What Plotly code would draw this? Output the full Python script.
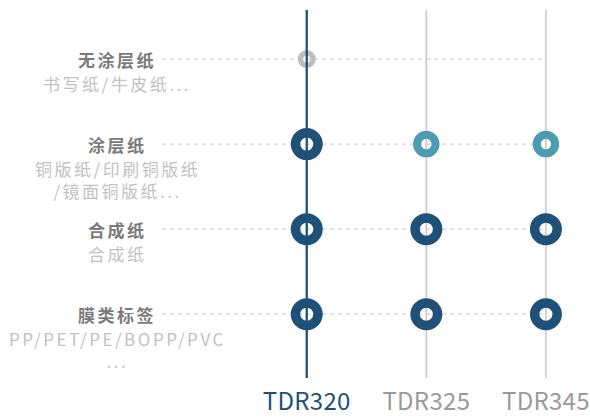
import plotly.graph_objects as go

# ---- data ----
models = ["TDR320", "TDR325", "TDR345"]
categories = ["无涂层纸", "涂层纸", "合成纸", "膜类标签"]
subtitles = [
    "书写纸/牛皮纸...",
    "铜版纸/印刷铜版纸<br>/镜面铜版纸...",
    "合成纸",
    "PP/PET/PE/BOPP/PVC<br>...",
]
# support level of each model for each paper category
support_tdr320 = ["limited", "full", "full", "full"]
support_tdr325 = [None, "partial", "full", "full"]
support_tdr345 = [None, "partial", "full", "full"]
support = {"TDR320": support_tdr320, "TDR325": support_tdr325, "TDR345": support_tdr345}
highlight_model = "TDR320"

# ---- styles ----
W, H = 590, 417
DARK = "#1f5077"
TEAL = "#4b9bb1"
GREY_MARK = "#bdbdbd"
LINE_GREY = "#c9c9c9"
DASH_GREY = "#cfcfcf"
FONT = "Noto Sans CJK SC"
styles = {
    "full": dict(color=DARK, size=22.5, lw=9.5),
    "partial": dict(color=TEAL, size=18.5, lw=8),
    "limited": dict(color=GREY_MARK, size=12.5, lw=5.5),
}

x_range = [-2.565, 2.3436]
y_range = [3.7499, -0.5769]

fig = go.Figure()

for level, st in styles.items():
    xs, ys = [], []
    for m in models:
        for cat, lv in zip(categories, support[m]):
            if lv == level:
                xs.append(m)
                ys.append(cat)
    fig.add_trace(go.Scatter(
        x=xs, y=ys, mode="markers", hoverinfo="x+y", showlegend=False,
        marker=dict(symbol="circle-open", size=st["size"], color=st["color"],
                    line=dict(width=st["lw"], color=st["color"])),
    ))

shapes = []
# dashed row guide lines
label_gap_frac = 163 / W
x0_dash = x_range[0] + label_gap_frac * (x_range[1] - x_range[0])
for cat in categories:
    shapes.append(dict(type="line", xref="x", yref="y", x0=x0_dash, x1=models[-1],
                       y0=cat, y1=cat, layer="below",
                       line=dict(color=DASH_GREY, width=1.3, dash="4px,4px")))
# vertical model lines
for m in models:
    hl = m == highlight_model
    shapes.append(dict(type="line", xref="x", yref="paper", x0=m, x1=m, y0=0, y1=1,
                       layer="above" if hl else "below",
                       line=dict(color=DARK if hl else LINE_GREY, width=2.3 if hl else 1.6)))

annotations = []
label_x = 118 / W
for cat, sub in zip(categories, subtitles):
    annotations.append(dict(
        xref="paper", yref="y", x=label_x, y=cat, xanchor="center", yanchor="middle",
        showarrow=False, align="center",
        text=f"<span style='letter-spacing:2.5px'><b>{cat}</b></span>",
        font=dict(family=FONT, size=17, color="#7b7b7b"),
    ))
    sub_lines = "<br>".join(f"<span style='letter-spacing:2.5px'>{s}</span>" for s in sub.split("<br>"))
    annotations.append(dict(
        xref="paper", yref="y", x=label_x, y=cat, xanchor="center", yanchor="top",
        yshift=-10, showarrow=False, align="center",
        text=sub_lines,
        font=dict(family=FONT, size=17, color="#c2c2c2"),
    ))

ticktext = [
    f"<span style='letter-spacing:0.3px;color:{DARK if m == highlight_model else '#9a9a9a'}'>{m}</span>"
    for m in models
]

fig.update_layout(
    width=W, height=H,
    margin=dict(l=0, r=0, t=10, b=32),
    paper_bgcolor="white", plot_bgcolor="white",
    shapes=shapes, annotations=annotations,
    xaxis=dict(type="category", categoryarray=models, range=x_range,
               showgrid=False, zeroline=False, showline=False,
               tickvals=models, ticktext=ticktext, ticks="",
               tickfont=dict(family=FONT, size=24), ticklabelstandoff=7),
    yaxis=dict(type="category", categoryarray=categories, range=y_range,
               showgrid=False, zeroline=False, showline=False, showticklabels=False),
)

page_css = ("html,body{margin:0;padding:0;overflow:hidden;"
            f"width:{W}px;height:{H}px}}")
fig.write_html(
    "out.html", config={"displayModeBar": False},
    post_script=("var s=document.createElement('style');"
                 f"s.textContent='{page_css}';document.head.appendChild(s);"),
)
